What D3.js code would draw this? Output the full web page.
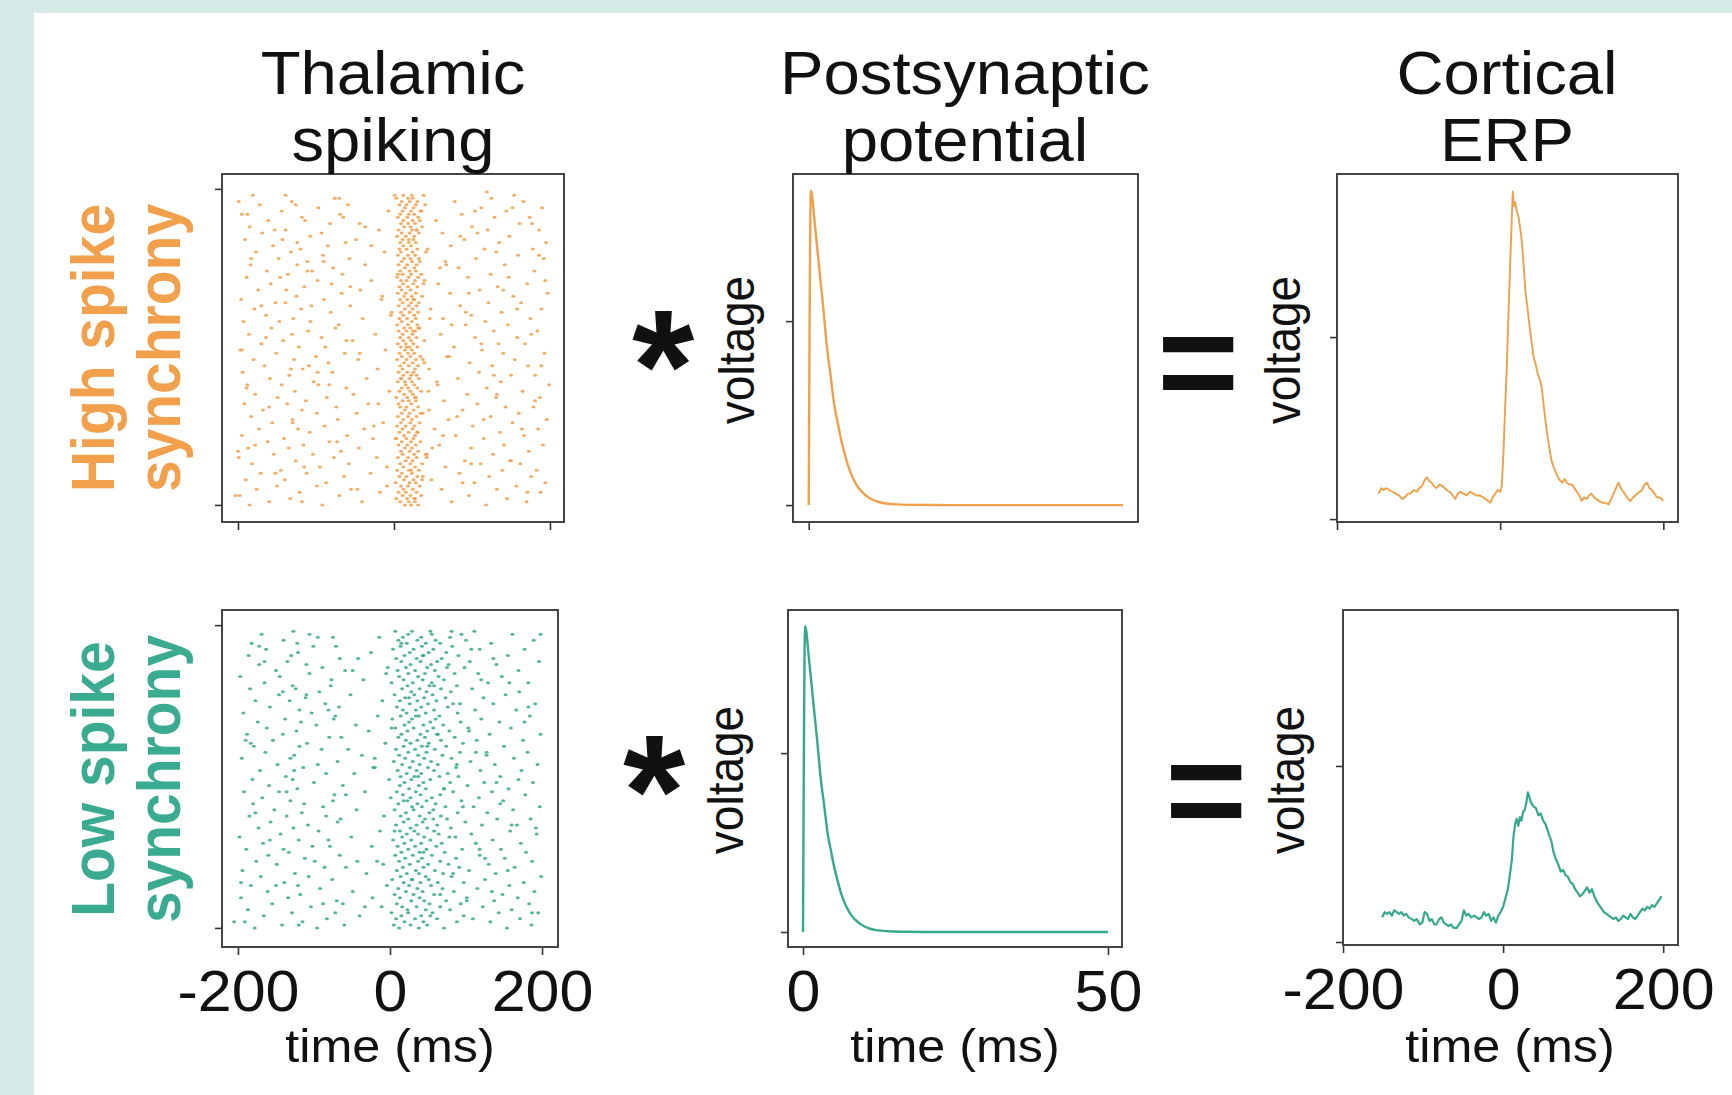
<!DOCTYPE html>
<html><head><meta charset="utf-8">
<script src="https://cdn.jsdelivr.net/npm/d3@7"></script>
<style>html,body{margin:0;padding:0;background:#fff;}svg{display:block}</style>
</head><body><svg id="c" width="1732" height="1095"></svg>
<script>
// ---------------- DATA ----------------
const columnTitles = [["Thalamic","spiking"],["Postsynaptic","potential"],["Cortical","ERP"]];
const rowLabels = [["High spike","synchrony"],["Low spike","synchrony"]];
const rasterTicks = [-200, 0, 200];
const pspTicksTop = [0];
const pspTicksBottom = [0, 50];
const erpTicks = [-200, 0, 200];
const trialTicks = [0, 100];
const voltTicks = [0, 1];

// spike times (ms) per trial, high synchrony
const highSpikes = [
[-185,-92,14,22,31,118],[-160,-41,8,19,27,74,170],[-133,3,17,26,145],[-198,-70,11,21,35,96],
[-121,-18,6,15,29,188],[-176,-55,12,24,61,132],[-150,-99,9,18,33,157],[-87,2,20,28,103,194],
[-190,-140,13,25,48],[-64,7,16,30,122,176],[-171,-112,-30,10,23,84],[-145,4,19,32,139,183],
[-95,-9,12,27,66],[-182,-58,8,21,36,111,162],[-126,15,24,91,149],[-199,-77,-22,5,18,29],
[-154,-104,11,26,42,127],[-68,9,20,31,173],[-187,-135,-45,14,23,99],[-116,6,17,28,58,141,191],
[-162,-83,10,22,34],[-141,-27,3,16,25,115],[-195,-60,13,27,79,167],[-108,7,19,30,136],
[-173,-123,-38,11,24,52,185],[-89,4,15,26,101],[-156,-14,9,21,33,152],[-130,-72,12,23,70,196],
[-183,5,18,29,124],[-99,-48,10,20,37,160],[-168,-118,14,25,88],[-74,8,16,31,143,179],
[-192,-137,-33,6,22,107],[-113,11,19,28,64],[-149,-86,3,17,27,131,187],[-178,-52,13,24,94],
[-127,-6,7,21,35,165],[-61,10,18,30,119],[-188,-144,-97,15,26,56,199],[-103,5,14,23,137],
[-159,-35,9,20,32,82],[-134,12,22,29,150,181],[-194,-79,6,17,25,109],[-117,-21,11,27,45],
[-166,-109,8,19,31,126,172],[-84,13,24,97],[-180,-128,-46,4,16,28,155],[-100,10,21,34,68],
[-151,-63,7,18,26,140,193],[-197,-11,14,23,113],[-122,-88,9,20,30,77],[-170,5,15,25,134,168],
[-142,-53,12,22,39],[-93,8,19,29,104,158],[-186,-131,-24,11,24,60],[-110,6,16,27,128,184],
[-157,-75,13,21,33],[-71,4,18,30,92,146],[-193,-147,10,23,117],[-129,-40,7,17,28,63,175],
[-164,12,26,99],[-81,-3,9,20,31,138],[-179,-119,14,24,47,189],[-106,-56,6,19,29,85],
[-152,11,22,32,121,163],[-196,-90,-16,8,17,26],[-125,13,23,36,153],[-67,5,15,28,72,197],
[-174,-138,-43,10,21,110],[-115,7,18,30,133],[-158,-80,12,25,57,171],[-98,-29,9,16,27],
[-189,4,19,31,95,147],[-136,-66,11,22,35,124],[-163,-105,8,20,28,180],[-78,14,26,83],
[-184,-124,-37,6,17,29,142],[-111,10,23,33,66],[-148,-57,13,21,105,192],[-91,5,18,27,159],
[-177,-132,-12,9,24,41],[-120,7,16,30,116,178],[-155,-85,12,22,73],[-62,8,19,28,135,195],
[-191,-143,-49,11,25,90],[-107,4,15,26,148],[-169,-93,10,20,32,62],[-139,-19,6,23,29,120,186],
[-185,13,21,36,100],[-82,-44,9,18,27,161],[-161,-114,12,24,54],[-118,5,17,31,129,174],
[-195,-69,8,19,26,87],[-144,-7,11,22,34,144],[-97,14,25,112,190],[-172,-126,-59,7,16,28],
[-131,10,20,30,78,166],[-76,3,18,24,125],[-181,-139,12,23,38,154]
];
// extra high-synchrony spikes: [time ms, trial]
const highExtra = [
[-203,3],[-47,5],[88,7],[37,9],[-115,12],[150,14],[41,16],[-178,19],[2,21],[63,22],[-26,25],[115,27],
[34,29],[-160,31],[181,33],[44,36],[-83,38],[9,40],[128,41],[-132,43],[39,45],[71,47],[-195,49],[16,50],
[-61,52],[176,54],[31,56],[-107,58],[46,59],[92,61],[-170,63],[25,65],[-15,66],[140,68],[38,70],[-146,72],
[5,73],[59,75],[-90,77],[186,79],[43,81],[-124,83],[19,84],[107,86],[-37,88],[33,90],[-188,92],[152,94],
[40,95],[-70,97],[1,98],[119,99],[-118,1],[171,4],[-9,6],[-152,10],[99,13],[-200,17],[49,18],[-73,20],
[164,24],[-130,26],[81,28],[-20,32],[132,35],[-189,37],[55,39],[-98,42],[189,44],[-44,48],[112,51],
[-164,53],[74,57],[-4,60],[158,62],[-139,64],[96,67],[-56,69],[194,71],[-111,74],[67,76],[-183,78],
[131,80],[-29,82],[85,85],[-153,87],[177,89],[-65,91],[104,93],[-199,96],[27,2],[36,8],[22,11],[42,15],
[30,23],[45,30],[28,34],[37,46],[24,55],[39,71],[32,78],[29,87],[35,93]
];

// spike times (ms) per trial, low synchrony
const lowSpikes = [
[-178,-96,12,38,71,154],[-142,-60,5,27,49,186],[-191,-115,19,44,88,132],[-83,8,33,62,109,171],
[-166,-40,15,41,97],[-129,-72,2,24,56,143,195],[-187,23,47,79,160],[-104,-11,16,35,66,122],
[-155,-88,9,52,93,183],[-70,28,45,74,137],[-196,-134,-23,13,39,101,168],[-118,6,31,58,148],
[-161,-49,21,43,84,190],[-92,11,36,69,115],[-183,-121,-4,25,54,157],[-139,18,40,63,97,176],
[-76,3,29,51,125],[-170,-107,14,47,81,199],[-125,-31,22,38,70,139],[-194,9,34,59,104],
[-86,-58,17,44,91,164],[-149,26,50,77,130],[-176,-99,-17,12,37,66,187],[-112,20,42,87,151],
[-160,-66,7,30,55,118],[-133,15,39,72,179],[-189,-140,24,48,95,146],[-79,-24,10,33,61],
[-167,19,41,68,113,172],[-120,-81,4,28,53,135],[-198,-51,16,45,86],[-144,22,37,64,107,193],
[-94,-13,13,32,58,158],[-173,-127,27,49,80],[-108,8,35,62,121,167],[-157,-69,18,43,99],
[-65,24,46,75,141,185],[-185,-136,-8,14,39,67],[-116,21,52,89,128],[-152,-44,6,31,57,162],
[-88,29,42,73,110,197],[-180,-113,11,36,60],[-131,-75,23,48,94,149],[-168,1,27,55,117],
[-73,17,40,66,178],[-192,-146,-33,9,34,83,134],[-122,25,47,71,156],[-159,-62,13,38,102],
[-100,19,44,79,124,188],[-181,-128,-1,28,53],[-137,14,32,65,90,145],[-84,-47,22,41,76],
[-171,10,35,58,119,173],[-114,-20,26,50,87],[-148,-95,16,39,63,138,194],[-69,5,30,54,106],
[-195,-131,20,45,81,163],[-126,-37,12,37,69],[-164,24,48,92,127,181],[-90,-55,8,33,59],
[-179,-119,18,42,74,150],[-109,-6,27,51,96],[-154,21,36,67,114,175],[-80,-64,11,46,85],
[-188,-141,15,40,62,131,198],[-123,-28,23,49,78],[-162,7,31,57,103,159],[-97,-45,19,44,70],
[-174,-117,25,53,93,144],[-138,3,29,60,120],[-72,-16,14,38,65,184],[-193,-103,22,47,89],
[-119,17,34,58,112,166],[-158,-67,9,41,76],[-85,26,50,83,136,191],[-177,-132,-10,13,36,61],
[-111,20,45,73,123],[-146,-52,6,32,56,152],[-93,28,48,80,170],[-184,-124,16,39,67,108],
[-128,-78,23,52,88],[-165,2,30,55,129,182],[-77,-35,18,43,71],[-197,-145,12,37,64,147],
[-106,24,46,85,116],[-150,-59,10,33,59,169],[-89,-3,21,49,98],[-172,-110,27,54,77,140],
[-135,15,40,62,105,196],[-66,-42,8,35,68],[-186,-130,19,44,90,155],[-121,-25,26,51,74],
[-163,4,31,57,118,177],[-101,-71,14,42,82],[-182,-122,22,47,66,133],[-140,11,36,60,100,189],
[-75,-14,17,41,79],[-169,-106,24,55,94,161],[-127,7,29,53,111]
];
// extra low-synchrony spikes: [time ms, trial]
const lowExtra = [
[-205,2],[53,4],[-33,7],[101,9],[66,11],[-150,14],[29,16],[83,18],[-9,21],[125,23],[44,25],[-102,27],
[78,30],[6,32],[160,34],[57,36],[-177,38],[96,40],[18,42],[-58,44],[71,46],[140,48],[37,50],[-126,52],
[88,54],[-20,56],[113,58],[49,60],[-190,62],[63,64],[2,66],[177,68],[34,70],[-81,72],[92,74],[25,76],
[-141,78],[58,80],[120,82],[-5,84],[75,86],[-165,88],[43,90],[107,92],[15,94],[-95,96],[81,98],
[-120,1],[187,5],[-62,8],[134,12],[-196,15],[155,19],[-43,22],[118,26],[-158,29],[192,33],[-84,37],
[145,41],[-136,45],[169,49],[-22,53],[127,57],[-183,61],[104,65],[-74,69],[182,73],[-110,77],[157,81],
[-49,85],[136,89],[-172,93],[198,97]
];

// postsynaptic potential kernel: [time ms, voltage]
const psp = [[0,0],[0.35,1.71],[1.0,1.52],[1.7,1.28],[2.3,1.08],[2.9,0.86],[3.5,0.70],[4.0,0.56],
[4.6,0.45],[5.2,0.35],[5.8,0.27],[6.3,0.21],[7.0,0.15],[8.0,0.09],[9.0,0.055],[10.0,0.032],
[11.0,0.018],[12.0,0.010],[14.0,0.004],[17.0,0.001],[22.0,0],[30.0,0],[40.0,0],[50.0,0]];

// cortical ERP, high synchrony: [time ms, voltage]
const erpHigh = [[-149,0.14],[-146,0.17],[-143,0.16],[-140,0.17],[-136,0.16],[-132,0.15],[-128,0.14],
[-124,0.13],[-120,0.11],[-117,0.12],[-113,0.14],[-110,0.14],[-106,0.16],[-102,0.15],[-99,0.17],
[-96,0.18],[-93,0.21],[-90,0.23],[-87,0.21],[-84,0.20],[-81,0.18],[-78,0.17],[-74,0.19],[-70,0.18],
[-66,0.16],[-62,0.15],[-58,0.13],[-55,0.11],[-52,0.14],[-49,0.15],[-45,0.14],[-41,0.13],[-37,0.15],
[-33,0.14],[-29,0.13],[-25,0.13],[-21,0.12],[-18,0.11],[-15,0.10],[-12,0.09],[-9,0.12],[-6,0.14],
[-3,0.16],[0,0.15],[2,0.18],[4,0.36],[6,0.60],[8,0.82],[10,1.10],[12,1.37],[14,1.62],[15.5,1.80],
[17,1.72],[18.5,1.74],[20,1.70],[22.5,1.66],[24.5,1.60],[26.5,1.53],[29,1.38],[31,1.25],[33,1.18],
[35,1.10],[38,0.99],[41,0.89],[43,0.86],[46,0.80],[49,0.76],[51,0.72],[54,0.60],[57,0.49],[60,0.40],
[63,0.32],[66,0.28],[69,0.25],[72,0.22],[76,0.20],[79,0.22],[82,0.20],[85,0.19],[88,0.19],[91,0.17],
[94,0.15],[97,0.13],[100,0.10],[103,0.12],[106,0.11],[109,0.13],[112,0.14],[115,0.12],[118,0.11],
[121,0.10],[125,0.09],[129,0.09],[133,0.08],[136,0.11],[139,0.14],[142,0.17],[145,0.20],[148,0.17],
[151,0.15],[154,0.13],[157,0.11],[160,0.10],[163,0.12],[166,0.13],[168,0.14],[171,0.15],[174,0.16],
[177,0.19],[180,0.20],[183,0.17],[186,0.16],[189,0.14],[192,0.12],[195,0.12],[198,0.11],[200,0.10]];

// cortical ERP, low synchrony: [time ms, voltage]
const erpLow = [[-151,0.14],[-148,0.17],[-145,0.16],[-142,0.17],[-139,0.15],[-136,0.18],[-133,0.17],
[-130,0.16],[-127,0.17],[-124,0.15],[-121,0.16],[-118,0.14],[-114,0.13],[-111,0.12],[-108,0.13],
[-104,0.10],[-101,0.11],[-98,0.17],[-95,0.16],[-92,0.12],[-89,0.13],[-86,0.10],[-83,0.10],[-80,0.13],
[-77,0.14],[-74,0.11],[-71,0.10],[-68,0.09],[-65,0.10],[-62,0.08],[-58,0.08],[-55,0.10],[-52,0.12],
[-49,0.18],[-46,0.15],[-43,0.16],[-40,0.14],[-36,0.15],[-33,0.14],[-30,0.13],[-27,0.14],[-24,0.17],
[-21,0.15],[-18,0.16],[-15,0.12],[-12,0.14],[-9,0.11],[-6,0.15],[-3,0.17],[0,0.20],[3,0.25],[6,0.30],
[9,0.40],[11,0.47],[13,0.60],[15,0.67],[17,0.70],[19,0.66],[21,0.71],[23,0.69],[25,0.74],[27,0.75],
[29,0.79],[31,0.85],[33,0.82],[35,0.79],[38,0.77],[41,0.76],[44,0.72],[47,0.73],[50,0.69],[53,0.67],
[56,0.63],[58,0.60],[60,0.58],[63,0.51],[66,0.47],[69,0.44],[72,0.40],[75,0.41],[78,0.38],[81,0.37],
[84,0.34],[87,0.33],[90,0.30],[93,0.28],[96,0.26],[99,0.27],[102,0.29],[105,0.31],[108,0.28],
[111,0.30],[114,0.26],[117,0.23],[120,0.21],[123,0.19],[126,0.17],[129,0.16],[132,0.15],[135,0.14],
[138,0.13],[141,0.14],[144,0.12],[147,0.13],[150,0.15],[153,0.14],[156,0.13],[159,0.16],[162,0.14],
[165,0.13],[168,0.15],[171,0.17],[174,0.19],[177,0.18],[180,0.20],[183,0.19],[186,0.21],[189,0.20],
[192,0.22],[195,0.24],[198,0.26]];

// ---------------- STYLE / LAYOUT ----------------
const ORANGE = "#f0a04b", TEAL = "#36a88c";
const ORANGE_TXT = "#f2a04c", TEAL_TXT = "#3aab90";
const FONT = "'Liberation Sans', Arial, Helvetica, sans-serif";
const SX = 1.07; // horizontal stretch of the original artwork's glyphs

const svg = d3.select("#c");
svg.append("rect").attr("width",1732).attr("height",1095).attr("fill","#d6ebe8");
svg.append("rect").attr("x",34).attr("y",13).attr("width",1732-34).attr("height",1095-13).attr("fill","#ffffff");

function panel(c){
  const x = d3.scaleLinear().domain(c.xd).range([c.x0, c.x1]);
  const y = d3.scaleLinear().domain(c.yd).range([c.y1, c.y0]);
  const g = svg.append("g");
  const la = g.append("g").attr("transform",`translate(${c.x0},0)`)
    .call(d3.axisLeft(y).tickValues(c.yt).tickSize(7).tickFormat(""));
  la.select(".domain").remove();
  la.selectAll("line").attr("stroke","#333").attr("stroke-width",1.6);
  const ba = g.append("g").attr("transform",`translate(0,${c.y1})`)
    .call(d3.axisBottom(x).tickValues(c.xt).tickSize(8).tickPadding(16)
      .tickFormat(c.labels ? (d=>String(d)) : ""));
  ba.select(".domain").remove();
  ba.selectAll("line").attr("stroke","#333").attr("stroke-width",1.6);
  ba.selectAll("text").attr("font-family",FONT).attr("font-size",57).attr("fill","#111")
    .attr("transform",`scale(${SX},1)`);
  const plot = g.append("g");
  g.append("rect").attr("x",c.x0).attr("y",c.y0).attr("width",c.x1-c.x0).attr("height",c.y1-c.y0)
    .attr("fill","none").attr("stroke","#444").attr("stroke-width",2);
  return {x, y, plot};
}

function raster(p, data, extra, color){
  const pts = [];
  data.forEach((trial,i)=>trial.forEach(t=>pts.push([t,i])));
  extra.forEach(d=>pts.push(d));
  p.plot.selectAll("ellipse").data(pts).join("ellipse")
    .attr("cx",d=>p.x(d[0])).attr("cy",d=>p.y(d[1])).attr("rx",2).attr("ry",1.5)
    .attr("fill",color).attr("opacity",0.85);
}
function trace(p, pts, color, w, curve){
  p.plot.append("path").datum(pts)
    .attr("d", d3.line().x(d=>p.x(d[0])).y(d=>p.y(d[1])).curve(curve||d3.curveLinear))
    .attr("fill","none").attr("stroke",color).attr("stroke-width",w).attr("stroke-linejoin","round");
}

// top row
const rH = panel({x0:222,x1:564,y0:174,y1:522,xd:[-220.5,218],yd:[-5.4,104.7],xt:rasterTicks,yt:trialTicks,labels:false});
raster(rH, highSpikes, highExtra, ORANGE);
const pH = panel({x0:793,x1:1138,y0:174,y1:522,xd:[-2.5,52.4],yd:[-0.092,1.80],xt:pspTicksTop,yt:voltTicks,labels:false});
trace(pH, psp, ORANGE, 2.4, d3.curveMonotoneX);
const eH = panel({x0:1337,x1:1678,y0:174,y1:522,xd:[-200,218],yd:[-0.016,1.896],xt:erpTicks,yt:voltTicks,labels:false});
trace(eH, erpHigh, ORANGE, 1.9);

// bottom row
const rL = panel({x0:222,x1:558,y0:610,y1:947,xd:[-221,221],yd:[-6.3,105],xt:rasterTicks,yt:trialTicks,labels:true});
raster(rL, lowSpikes, lowExtra, TEAL);
const pL = panel({x0:788,x1:1122,y0:610,y1:947,xd:[-2.46,52.3],yd:[-0.084,1.80],xt:pspTicksBottom,yt:voltTicks,labels:true});
trace(pL, psp, TEAL, 2.4, d3.curveMonotoneX);
const eL = panel({x0:1343,x1:1678,y0:610,y1:945,xd:[-200,218.5],yd:[-0.017,1.886],xt:erpTicks,yt:voltTicks,labels:true});
trace(eL, erpLow, TEAL, 2.2);

// ---------------- TEXT ----------------
function htext(str, x, y, size, opts={}){
  return svg.append("text").attr("transform",`translate(${x},${y}) scale(${opts.sx||SX},${opts.sy||1})`)
    .attr("text-anchor","middle").attr("font-family",FONT).attr("font-size",size)
    .attr("font-weight",opts.bold?"bold":"normal").attr("fill",opts.fill||"#111").text(str);
}
function vtext(str, x, y, size, opts={}){
  return svg.append("text").attr("transform",`translate(${x},${y}) rotate(-90) scale(1,${SX})`)
    .attr("text-anchor","middle").attr("font-family",FONT).attr("font-size",size)
    .attr("font-weight",opts.bold?"bold":"normal").attr("fill",opts.fill||"#111").text(str);
}

const titleX = [393, 965, 1507];
columnTitles.forEach((lines,i)=>{
  htext(lines[0], titleX[i], 94, 61);
  htext(lines[1], titleX[i], 161, 61);
});

vtext(rowLabels[0][0], 114, 348, 57, {bold:true, fill:ORANGE_TXT});
vtext(rowLabels[0][1], 180, 348, 57, {bold:true, fill:ORANGE_TXT});
vtext(rowLabels[1][0], 114, 779, 57, {bold:true, fill:TEAL_TXT});
vtext(rowLabels[1][1], 180, 779, 57, {bold:true, fill:TEAL_TXT});

vtext("voltage", 754, 350, 46);
vtext("voltage", 1300, 350, 46);
vtext("voltage", 743, 780, 46);
vtext("voltage", 1304, 780, 46);

htext("time (ms)", 390, 1062, 47);
htext("time (ms)", 955, 1062, 47);
htext("time (ms)", 1510, 1062, 47);

// operators
htext("*", 663, 421, 160, {bold:true, sx:1});
htext("*", 654, 846, 160, {bold:true, sx:1});
htext("=", 1198, 410, 140, {bold:true, sx:1});
htext("=", 1206, 838, 140, {bold:true, sx:1});
</script></body></html>
